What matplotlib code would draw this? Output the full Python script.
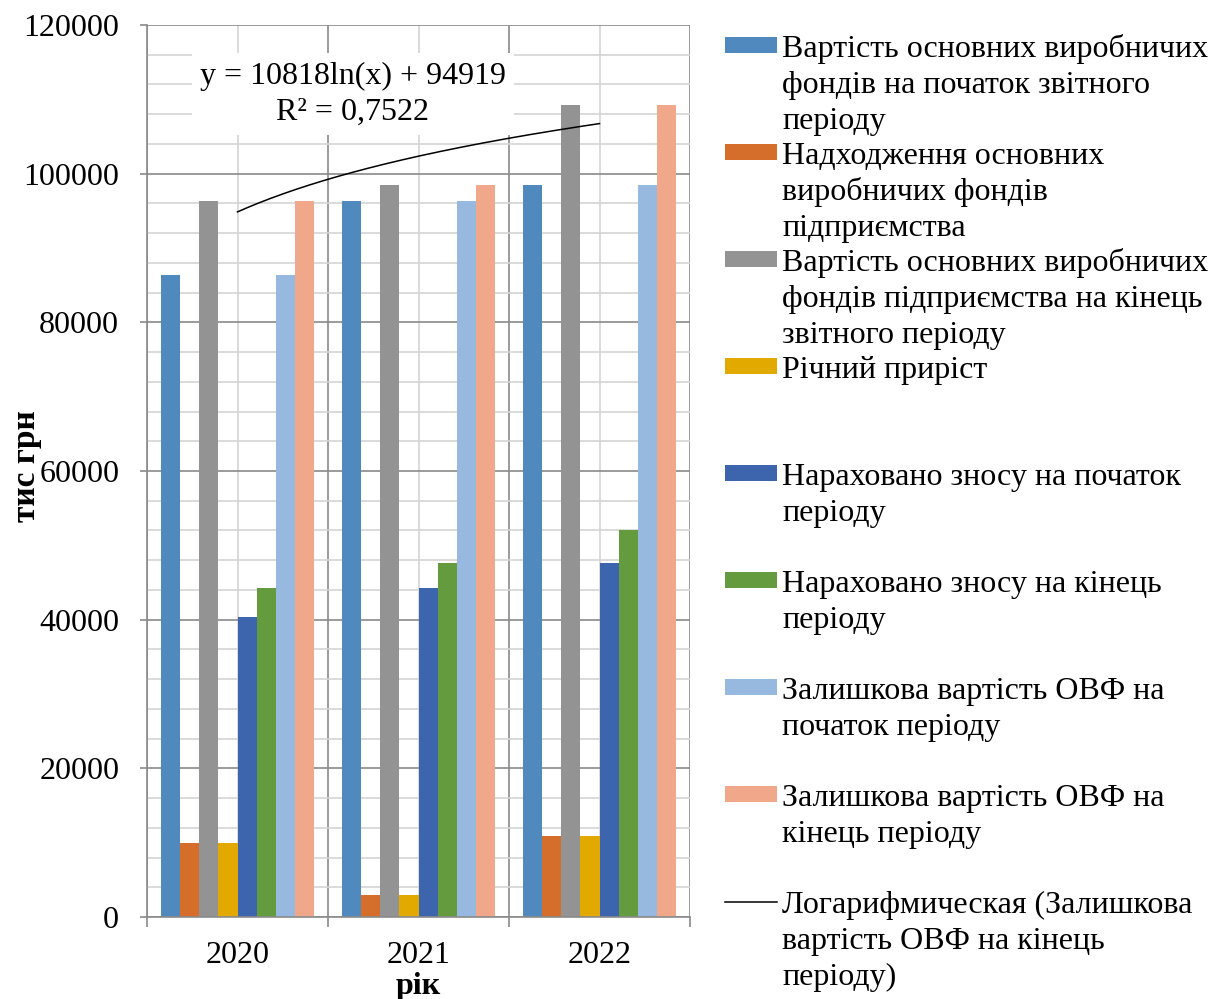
import numpy as np
import matplotlib
matplotlib.use("Agg")
import matplotlib.pyplot as plt
from matplotlib.patches import Rectangle
from matplotlib.lines import Line2D

plt.rcParams['font.family'] = ['Liberation Serif', 'DejaVu Serif']

# ---------------- data ----------------
years = ["2020", "2021", "2022"]
series_names = [
    "Вартість основних виробничих\nфондів на початок звітного\nперіоду",
    "Надходження основних\nвиробничих фондів\nпідприємства",
    "Вартість основних виробничих\nфондів підприємства на кінець\nзвітного періоду",
    "Річний приріст",
    "Нараховано зносу на початок\nперіоду",
    "Нараховано зносу на кінець\nперіоду",
    "Залишкова вартість ОВФ на\nпочаток періоду",
    "Залишкова вартість ОВФ на\nкінець періоду",
]
trend_name = "Логарифмическая (Залишкова\nвартість ОВФ на кінець\nперіоду)"

vartist_pochatok = [86400, 96300, 98450]
nadhodzhennia = [10000, 3000, 10900]
vartist_kinets = [96300, 98450, 109200]
richnyi_pryrist = [10000, 3000, 10900]
znos_pochatok = [40400, 44250, 47600]
znos_kinets = [44250, 47600, 52050]
zalyshkova_pochatok = [86400, 96300, 98450]
zalyshkova_kinets = [96300, 98450, 109200]

series_values = [vartist_pochatok, nadhodzhennia, vartist_kinets, richnyi_pryrist,
                 znos_pochatok, znos_kinets, zalyshkova_pochatok, zalyshkova_kinets]
colors = ["#4F89BD", "#D46E2A", "#939393", "#E2AA00",
          "#3D65AE", "#659B3F", "#98B9DF", "#F1A78A"]

equation_text = "y = 10818ln(x) + 94919\nR² = 0,7522"

# ---------------- layout ----------------
W, H = 1226, 999
fig = plt.figure(figsize=(W / 100, H / 100), dpi=100)
def fx(x): return x / W
def fy(y): return 1 - y / H

L, R, T, B = 147, 690, 25, 917
ax = fig.add_axes([fx(L), fy(B), (R - L) / W, (B - T) / H])

FS = 23
n = len(series_values)
bw = 1 / (n + 1.5)
xpos = np.arange(len(years))
for j, (vals, c) in enumerate(zip(series_values, colors)):
    ax.bar(xpos + (j - (n - 1) / 2) * bw, vals, width=bw, color=c,
           edgecolor='none', zorder=2)

# logarithmic trendline on last series
xt = np.arange(1, len(years) + 1)
a, b = np.polyfit(np.log(xt), zalyshkova_kinets, 1)
xs = np.linspace(1, len(years), 200)
ax.plot(xs - 1, a * np.log(xs) + b, color='black', lw=1.1, zorder=3)

ax.set_xlim(-0.5, len(years) - 0.5)
ax.set_ylim(0, 120000)
ax.set_yticks(np.arange(0, 120001, 20000))
ax.set_yticks(np.arange(0, 120001, 4000), minor=True)
ax.set_xticks(np.arange(-0.5, len(years), 1.0))
ax.set_xticklabels([])
ax.set_xticks(xpos, minor=True)
ax.set_xticklabels(years, minor=True)

major_c = "#8A8A8A"
minor_c = "#D4D4D4"
ax.set_axisbelow(True)
ax.grid(True, which='major', color=major_c, lw=1.2, zorder=0)
ax.grid(True, which='minor', color=minor_c, lw=1.2, zorder=0)

for s in ['top', 'right']:
    ax.spines[s].set_visible(False)
for s in ['left', 'bottom']:
    ax.spines[s].set_color(major_c)
    ax.spines[s].set_linewidth(1.2)

ax.tick_params(axis='y', which='major', direction='out', length=5, width=1.2,
               color=major_c, labelsize=FS, pad=15)
ax.tick_params(axis='y', which='minor', length=0)
ax.tick_params(axis='x', which='major', direction='out', length=7, width=1.2,
               color=major_c)
ax.tick_params(axis='x', which='minor', length=0, labelsize=FS, pad=17)

ax.set_xlabel("рік", fontsize=FS, fontweight='bold')
ax.xaxis.set_label_coords(0.5, (B - 972) / (B - T))
fig.text(fx(27), fy(466), "тис грн", rotation=90, ha='center', va='center',
         fontsize=24, fontweight='bold')

# equation label
fig.text(fx(353), fy(94), equation_text, ha='center', va='center', fontsize=FS,
         linespacing=1.3,
         bbox=dict(facecolor='white', edgecolor='none', pad=6))

# ---------------- legend ----------------
slot = 107
base0 = 57
line_sp = 36
for k, (name, c) in enumerate(zip(series_names, colors)):
    yb = base0 + k * slot
    fig.patches.append(Rectangle((fx(725), fy(yb - 4)), 52 / W, 16 / H,
                                 transform=fig.transFigure, facecolor=c,
                                 edgecolor='none'))
    for i, line in enumerate(name.split("\n")):
        fig.text(fx(782), fy(yb + i * line_sp), line, ha='left', va='baseline',
                 fontsize=FS)
k = len(series_names)
yb = base0 + k * slot
fig.lines.append(Line2D([fx(725), fx(777)], [fy(yb - 11), fy(yb - 11)],
                        transform=fig.transFigure, color='black', lw=1.1))
for i, line in enumerate(trend_name.split("\n")):
    fig.text(fx(782), fy(yb + i * line_sp), line, ha='left', va='baseline',
             fontsize=FS)

fig.savefig("out.png", dpi=100, facecolor='white')
